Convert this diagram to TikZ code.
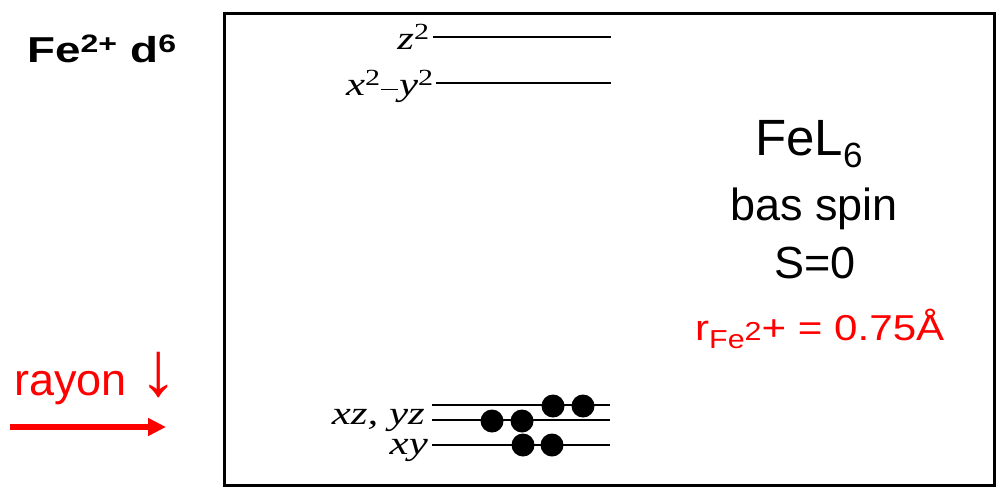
\documentclass[tikz,border=0pt]{standalone}
\usepackage{fontspec}
\usepackage{graphicx}
\setmainfont{Liberation Sans}
\newfontfamily\orbfont{Liberation Serif}
\usetikzlibrary{arrows.meta}
\newcommand{\wide}[1]{\scalebox{1.3}[1]{#1}}
\tikzset{
  lvl/.style={line width=1.2pt, black},
  elec/.style={fill=black, draw=none, circle, minimum size=23pt, inner sep=0pt},
  orb/.style={anchor=base east, inner sep=0pt, font=\orbfont\itshape\fontsize{33}{36}\selectfont},
  bigtxt/.style={anchor=base, inner sep=0pt, font=\fontsize{45}{50}\selectfont},
}
\begin{document}
\begin{tikzpicture}[x=1pt,y=-1pt]
\useasboundingbox (0,0) rectangle (1000,498);
\node[draw, line width=3pt, minimum width=770pt, minimum height=472pt, anchor=north west, inner sep=0pt] (box) at (223,12) {};
% title
\node[anchor=base west, inner sep=0pt, font=\bfseries\fontsize{36}{40}\selectfont] (title) at (27,62) {\scalebox{1.27}[1]{Fe\textsuperscript{2+} d\textsuperscript{6}}};
% levels
\coordinate (z2a) at (433,37); \coordinate (z2b) at (611,37);
\coordinate (x2a) at (436,83); \coordinate (x2b) at (611,83);
\coordinate (t1a) at (432,405); \coordinate (t1b) at (610,405);
\coordinate (t2a) at (432,420); \coordinate (t2b) at (610,420);
\coordinate (t3a) at (432,445); \coordinate (t3b) at (610,445);
\draw[lvl] (z2a) -- (z2b);
\draw[lvl] (x2a) -- (x2b);
\draw[lvl] (t1a) -- (t1b);
\draw[lvl] (t2a) -- (t2b);
\draw[lvl] (t3a) -- (t3b);
\node[orb] (lz) at (430,49) {\wide{z\textsuperscript{\upshape 2}}};
\node[orb] (lx) at (434,95) {\wide{x\textsuperscript{\upshape 2}\raisebox{5pt}{\upshape\rule{13pt}{1.3pt}}\kern1pt y\textsuperscript{\upshape 2}}};
\node[orb] (lxz) at (425,424) {\wide{xz,\ yz}};
\node[orb] (lxy) at (428,454) {\wide{xy}};
% electrons
\node[elec] (e1) at (553,406) {};
\node[elec] (e2) at (583,406) {};
\node[elec] (e3) at (492,421) {};
\node[elec] (e4) at (522,421) {};
\node[elec] (e5) at (523,445) {};
\node[elec] (e6) at (552,445) {};
% right text
\node[anchor=base west, inner sep=0pt, font=\fontsize{51}{56}\selectfont] (fel) at (755,155) {FeL\raisebox{-12pt}{\fontsize{35}{38}\selectfont 6}};
\node[bigtxt] (spin) at (814,220) {bas spin};
\node[bigtxt] (s0) at (815,278) {S=0};
\node[anchor=base west, inner sep=0pt, text=red, font=\fontsize{36}{40}\selectfont] (r) at (695,340) {\scalebox{1.17}[1]{r\raisebox{-8pt}{\fontsize{26}{30}\selectfont Fe}{\fontsize{26}{30}\selectfont 2}+ = 0.75Å}};
% rayon
\node[anchor=base west, inner sep=0pt, text=red, font=\fontsize{45}{50}\selectfont] (rayon) at (14,395) {rayon {\fontsize{77}{80}\selectfont\symbol{"2193}}};
\coordinate (ra) at (10,427);
\coordinate (rb) at (166,427);
\draw[red, line width=6pt, -{Triangle[length=18pt,width=17pt]}] (ra) -- (rb);
\end{tikzpicture}
\end{document}
